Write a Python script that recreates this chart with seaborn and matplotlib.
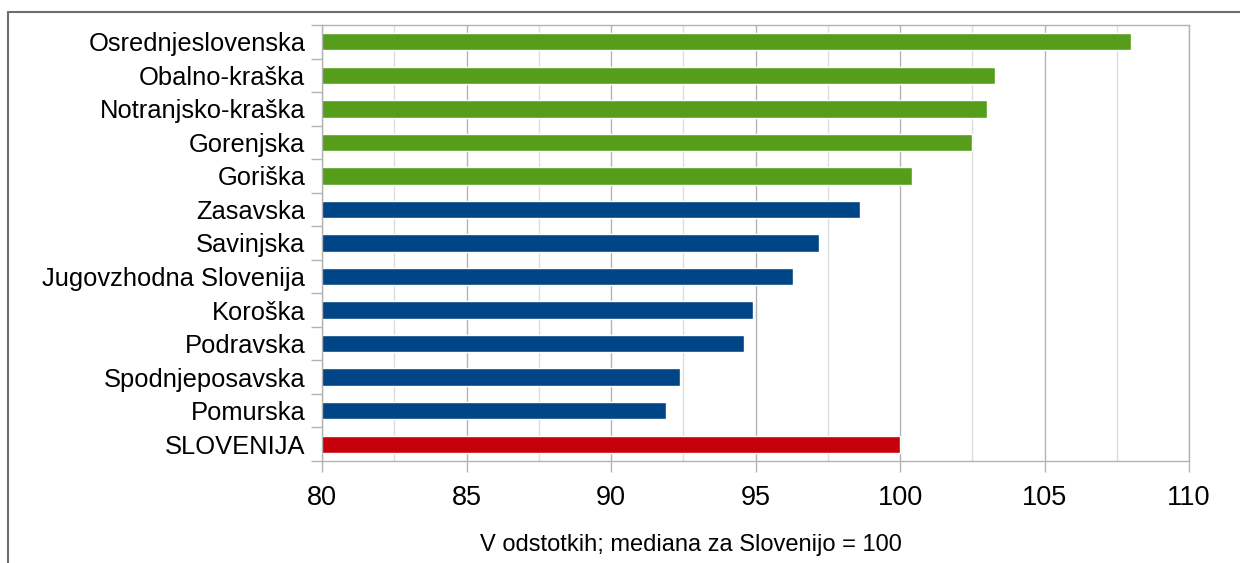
import matplotlib.pyplot as plt
import numpy as np
import pandas as pd
import seaborn as sns
from matplotlib.lines import Line2D
from matplotlib.ticker import MultipleLocator, FixedLocator

sns.set_style('white')
plt.rcParams['font.family'] = ['Liberation Sans', 'DejaVu Sans']
plt.rcParams['text.color'] = 'black'
plt.rcParams['xtick.labelcolor'] = 'black'
plt.rcParams['ytick.labelcolor'] = 'black'
plt.rcParams['axes.labelcolor'] = 'black'

# Data
regions = ['Osrednjeslovenska', 'Obalno-kraška', 'Notranjsko-kraška', 'Gorenjska',
           'Goriška', 'Zasavska', 'Savinjska', 'Jugovzhodna Slovenija', 'Koroška',
           'Podravska', 'Spodnjeposavska', 'Pomurska', 'SLOVENIJA']
values = [108.0, 103.3, 103.0, 102.5, 100.4, 98.6, 97.2, 96.3, 94.9, 94.6, 92.4, 91.9, 100.0]
groups = ['above'] * 5 + ['below'] * 7 + ['total']
palette = {'above': '#579D1C', 'below': '#004586', 'total': '#C5000B'}

df = pd.DataFrame({'region': regions, 'value': values, 'group': groups})

fig = plt.figure(figsize=(12.4, 5.63), dpi=100)
ax = fig.add_axes([322 / 1240, 1 - 461 / 563, (1189 - 322) / 1240, (461 - 25) / 563])

sns.barplot(data=df, x='value', y='region', hue='group', palette=palette,
            orient='h', width=0.52, dodge=False, legend=False, ax=ax,
            saturation=1)

ax.set_xlim(80, 110)
ax.set_ylim(len(regions) - 0.5, -0.5)
ax.xaxis.set_major_locator(MultipleLocator(5))
ax.xaxis.set_minor_locator(MultipleLocator(2.5))
ax.set_axisbelow(True)
ax.grid(which='major', axis='x', color='#b3b3b3', linewidth=1)
ax.grid(which='minor', axis='x', color='#dddddd', linewidth=1)

# category boundary ticks on the y axis
ax.yaxis.set_minor_locator(FixedLocator(np.arange(-0.5, len(regions), 1)))
ax.tick_params(axis='y', which='major', length=0, pad=12, labelsize=18.4)
ax.tick_params(axis='y', which='minor', length=8, width=1, color='#b3b3b3', direction='out', left=True)
ax.tick_params(axis='x', which='major', length=8, width=1, color='#b3b3b3', direction='out',
               bottom=True, pad=9, labelsize=19.5)
ax.tick_params(axis='x', which='minor', length=0)

for s in ax.spines.values():
    s.set_color('#b3b3b3')
    s.set_linewidth(1)

ax.set_ylabel('')
ax.set_xlabel('V odstotkih; mediana za Slovenijo = 100', fontsize=17)
ax.xaxis.set_label_coords((691 - 322) / 867, -(545 - 461) / 436, transform=ax.transAxes)
ax.xaxis.label.set_va('center')

# outer frame of the chart area
fx = 8 / 1240
fy = 1 - 12 / 563
fig.add_artist(Line2D([fx, 1], [fy, fy], transform=fig.transFigure, color='#6e6e6e', linewidth=1.5))
fig.add_artist(Line2D([fx, fx], [0, fy], transform=fig.transFigure, color='#6e6e6e', linewidth=1.5))

fig.savefig('out.png', dpi=100)
